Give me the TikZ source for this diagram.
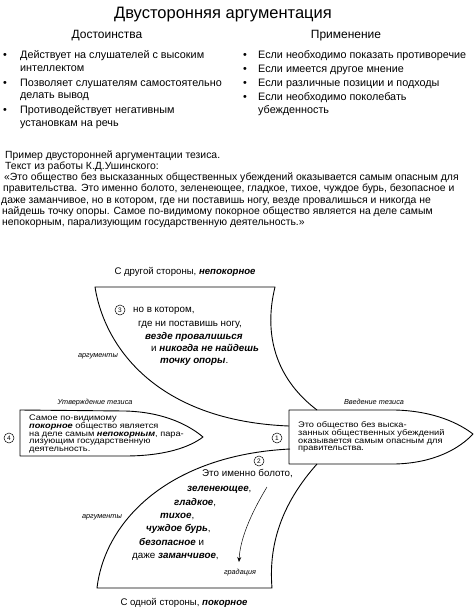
\documentclass[tikz,border=0pt]{standalone}
\usepackage{fontspec}
\setmainfont{Liberation Sans}
\usetikzlibrary{arrows.meta}
\newcommand{\bx}[1]{\textbf{\textit{#1}}}
\newcommand{\myfs}[1]{\fontsize{#1}{#1}\selectfont}
\begin{document}
\begin{tikzpicture}[x=1pt,y=-1pt,
  tl/.style={inner sep=0pt, anchor=base west},
  tc/.style={inner sep=0pt, anchor=base},
  title/.style={tc, font=\myfs{16.5}},
  subhead/.style={tc, font=\myfs{12}},
  bul/.style={tl, font=\myfs{10.8}},
  par/.style={tl, font=\myfs{10.4}},
  dia/.style={tl, font=\myfs{9.8}},
  small/.style={tc, font=\myfs{7.3}\itshape},
  boxtxt/.style={inner sep=0pt, anchor=north west, align=left, font=\fontsize{8.1}{7.6}\selectfont},
  shapeline/.style={line width=0.9pt, line join=round},
  numcirc/.style={draw, circle, line width=0.5pt, inner sep=0pt, minimum size=10pt, font=\myfs{6.5}}
]
\useasboundingbox (0,0) rectangle (474,608);
\fill[white] (0,0) rectangle (474,608);

% Heading
\node[title] (t) at (223,18) {Двусторонняя аргументация};
\node[subhead] (h1) at (107,38.5) {Достоинства};
\node[subhead] (h2) at (346,38.5) {Применение};

% Left bullets
\node[bul] (lb1) at (3,58) {•};
\node[bul] (lb2) at (3,86) {•};
\node[bul] (lb3) at (3,113) {•};
\node[bul] (l1) at (20,58) {Действует на слушателей с высоким};
\node[bul] (l2) at (20,71) {интеллектом};
\node[bul] (l3) at (20,86) {Позволяет слушателям самостоятельно};
\node[bul] (l4) at (20,98.5) {делать вывод};
\node[bul] (l5) at (20,113) {Противодействует негативным};
\node[bul] (l6) at (20,126) {установкам на речь};

% Right bullets
\node[bul] (rb1) at (243,58) {•};
\node[bul] (rb2) at (243,72) {•};
\node[bul] (rb3) at (243,86) {•};
\node[bul] (rb4) at (243,100) {•};
\node[bul] (r1) at (258,58) {Если необходимо показать противоречие};
\node[bul] (r2) at (258,72) {Если имеется другое мнение};
\node[bul] (r3) at (258,86) {Если различные позиции и подходы};
\node[bul] (r4) at (258,100) {Если необходимо поколебать};
\node[bul] (r5) at (258,113) {убежденность};

% Paragraph
\node[par] (p1) at (5,158.5) {Пример двусторонней аргументации тезиса.};
\node[par] (p2) at (5,169.5) {Текст из работы К.Д.Ушинского:};
\node[par] (p3) at (4,180.7) {«Это общество без высказанных общественных убеждений оказывается самым опасным для};
\node[par] (p4) at (3,191.8) {правительства. Это именно болото, зеленеющее, гладкое, тихое, чуждое бурь, безопасное и};
\node[par] (p5) at (1,203.2) {даже заманчивое, но в котором, где ни поставишь ногу, везде провалишься и никогда не};
\node[par] (p6) at (2,214.2) {найдешь точку опоры. Самое по-видимому покорное общество является на деле самым};
\node[par] (p7) at (2,225.4) {непокорным, парализующим государственную деятельность.»};

% Top shape
\node[tc, font=\myfs{9.6}] (top) at (185,274) {С другой стороны, \bx{непокорное}};
\draw[shapeline] (289,426) .. controls (160,421) and (105,350) .. (95,287)
  -- (275,287) .. controls (262,340) and (280,382) .. (317,410);
\node[numcirc] (c3) at (120,310) {3};
\node[dia] (a1) at (133,312.5) {но в котором,};
\node[dia] (a2) at (138,326.5) {где ни поставишь ногу,};
\node[dia] (a3) at (145,339.5) {\bx{везде провалишься}};
\node[dia] (a4) at (151,351.5) {и \bx{никогда не найдешь}};
\node[dia] (a5) at (160,363.5) {\bx{точку опоры}.};
\node[small] (arg1) at (98,357) {аргументы};

% Boxes
\node[small] (lab4) at (95,404.5) {Утверждение тезиса};
\node[small] (lab1) at (374,404.5) {Введение тезиса};
\draw[shapeline] (20,410) -- (125,411) .. controls (165,412) and (190,426) .. (203,437)
  .. controls (190,447) and (165,456) .. (125,456) -- (20,456) -- cycle;
\draw[shapeline] (289,410) -- (395,410) .. controls (435,411) and (460,424) .. (473,434)
  .. controls (460,448) and (435,463) .. (395,464) -- (289,464) -- cycle;
\node[numcirc] (c4) at (9,438) {4};
\node[numcirc] (c1) at (277,438) {1};
\node[boxtxt] (tx4) at (29,414.5) {\scalebox{1.14}[1]{\begin{tabular}{@{}l@{}}Самое по-видимому\\ \bx{покорное} общество является\\ на деле самым \bx{непокорным}, пара-\\ лизующим государственную\\ деятельность.\end{tabular}}};
\node[boxtxt] (tx1) at (298,421) {\scalebox{1.14}[1]{\begin{tabular}{@{}l@{}}Это общество без выска-\\ занных общественных убеждений\\ оказывается самым опасным для\\ правительства.\end{tabular}}};

% Bottom shape
\draw[shapeline] (290,449) .. controls (170,455) and (105,520) .. (97,588)
  -- (272,588) .. controls (268,540) and (285,500) .. (317,464);
\node[numcirc] (c2) at (259,461) {2};
\node[dia] (b1) at (202,476.5) {Это именно болото,};
\node[dia] (b2) at (187,491.5) {\bx{зеленеющее},};
\node[dia] (b3) at (174,505.5) {\bx{гладкое},};
\node[dia] (b4) at (160,518.5) {\bx{тихое},};
\node[dia] (b5) at (146,531.5) {\bx{чуждое бурь},};
\node[dia] (b6) at (139,545.5) {\bx{безопасное} и};
\node[dia] (b7) at (132,558.5) {даже \bx{заманчивое},};
\node[small] (arg2) at (102,518) {аргументы};
\node[small] (grad) at (240,574.5) {градация};
\coordinate (gs) at (267,487);
\coordinate (ge) at (239,562);
\draw[line width=0.5pt, -{Stealth[length=5pt,width=4pt]}] (gs) .. controls (250,515) and (240,540) .. (ge);
\node[tc, font=\myfs{9.6}] (bot) at (184,605) {С одной стороны, \bx{покорное}};
\end{tikzpicture}
\end{document}
